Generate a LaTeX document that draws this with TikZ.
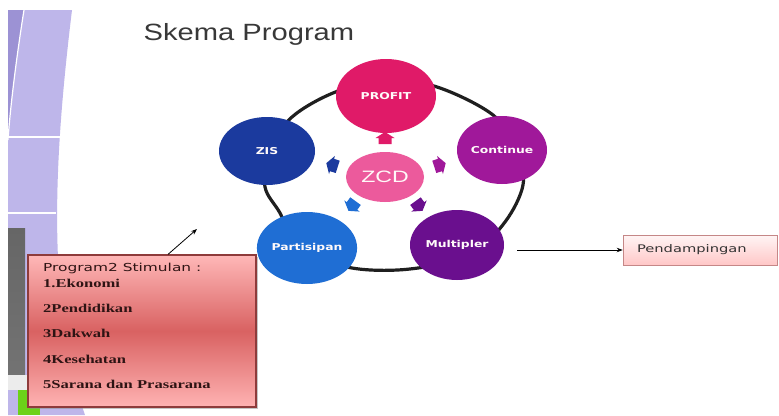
\documentclass[tikz,border=0pt]{standalone}
\usepackage{fontspec}
\setmainfont{Liberation Serif}
\newfontfamily\dejavu{DejaVu Sans}
\newfontfamily\libsans{Liberation Sans}
\usetikzlibrary{calc,arrows.meta,shadows,shapes.geometric}
\definecolor{profitc}{HTML}{E01A68}
\definecolor{zisc}{HTML}{1B3A9E}
\definecolor{contc}{HTML}{A0189A}
\definecolor{partc}{HTML}{1F6ED4}
\definecolor{multc}{HTML}{6A0F8E}
\definecolor{zcdc}{HTML}{EC5A9C}
\definecolor{lavd}{HTML}{9C92D4}
\definecolor{lavl}{HTML}{BEB6EA}
\definecolor{boxedge}{HTML}{8E3B3B}
\definecolor{listtext}{HTML}{2E1414}
\tikzset{
  bub/.style={ellipse, inner sep=0pt, text=white!92!pink,
    font=\dejavu\bfseries\fontsize{9.5}{11}\selectfont},
  ringline/.style={line width=3.2pt, black!88},
  stimbox/.style={rectangle, draw=boxedge, line width=1.2pt,
    top color=red!28!white, bottom color=red!30!white, middle color=red!55!white!85!black,
    drop shadow={shadow xshift=2pt, shadow yshift=-2pt, fill=black!45}},
  listitem/.style={anchor=base west, inner sep=0pt, text=listtext,
    font=\bfseries\fontsize{12}{14}\selectfont},
  pendbox/.style={rectangle, draw=red!35!gray!70, line width=0.6pt,
    top color=red!4!white, bottom color=red!22!white,
    text width=126pt, inner xsep=14pt, align=left, minimum height=30pt,
    font=\dejavu\fontsize{10.5}{12}\selectfont, text=black!80},
  pointer/.style={line width=0.8pt, black, -{Stealth[length=6pt,width=4.5pt]}},
  pics/blk/.style={code={\fill[#1] (-6,-6.5) -- (0,-6.5) -- (0,-9.5) -- (6,0) -- (0,9.5) -- (0,6.5) -- (-6,6.5) -- cycle;}}
}
\begin{document}
\begin{tikzpicture}[x=1pt,y=-1pt]
\useasboundingbox (0,0) rectangle (779,415);
\fill[white] (0,0) rectangle (779,415);
% left decoration
\fill[lavl] (8,10) -- (72,10) .. controls (55,150) and (45,300) .. (85,415) -- (8,415) -- cycle;
\fill[lavd] (8,10) -- (24,10) .. controls (16,60) and (10,110) .. (8,140) -- cycle;
\draw[white, line width=1.2pt] (24,10) .. controls (16,60) and (10,110) .. (8,140);
\draw[white, line width=1.2pt] (8,137) -- (62,137);
\draw[white, line width=1.2pt] (8,213) -- (56,213);
\shade[top color=black!60, middle color=gray!55, bottom color=black!55] (8,228) rectangle (25,375);
\fill[gray!15] (8,375) rectangle (42,390);
\fill[green!55!yellow!80!black!90] (18,390) rectangle (40,415);
% title
\node[anchor=base, inner sep=0pt, text=black!78, font=\libsans\fontsize{23.5}{28}\selectfont] (title) at (249,40) {\scalebox{1.24}[1]{Skema Program}};
% ring
\draw[ringline] plot[smooth cycle, tension=0.55] coordinates {(386,78) (440,88) (493,115) (518,150) (523,185) (505,222) (470,255) (410,269) (352,268) (300,250) (280,213) (265,187) (268,150) (292,117) (333,93)};
% bubbles
\node[bub, fill=profitc, minimum width=100pt, minimum height=74pt] (profit) at (386,96) {\scalebox{1.3}[1]{PROFIT}};
\node[bub, fill=zisc, minimum width=96pt, minimum height=68pt] (zis) at (267,151) {\scalebox{1.3}[1]{ZIS}};
\node[bub, fill=contc, minimum width=90pt, minimum height=68pt] (cont) at (502,150) {\scalebox{1.3}[1]{Continue}};
\node[bub, fill=partc, minimum width=92pt, minimum height=72pt] (part) at (307,248) {\scalebox{1.3}[1]{Partisipan}};
\node[bub, fill=multc, minimum width=94pt, minimum height=70pt] (mult) at (457,245) {\scalebox{1.3}[1]{Multipler}};
\node[ellipse, fill=zcdc, minimum width=78pt, minimum height=50pt, inner sep=0pt, text=white!90!pink, font=\libsans\fontsize{16.5}{18}\selectfont] (zcd) at (385,177) {\scalebox{1.4}[1]{ZCD}};
% small block arrows
\pic[rotate=90] at (385,138) {blk=profitc};
\pic[rotate=162] at (332,165) {blk=zisc};
\pic[rotate=18] at (440,165) {blk=contc};
\pic[rotate=234] at (352,206) {blk=partc};
\pic[rotate=306] at (419,206) {blk=multc};
% stimulus box
\node[stimbox, minimum width=228pt, minimum height=152pt, inner sep=0pt] (stim) at (142,331) {};
\node[listitem, font=\dejavu\fontsize{11}{13}\selectfont] (t0) at (43,271) {\scalebox{1.4}[1]{Program2 Stimulan :}};
\node[listitem] (t1) at (43,287) {\scalebox{1.38}[1]{1.Ekonomi}};
\node[listitem] (t2) at (43,312) {\scalebox{1.38}[1]{2Pendidikan}};
\node[listitem] (t3) at (43,337) {\scalebox{1.38}[1]{3Dakwah}};
\node[listitem] (t4) at (43,363) {\scalebox{1.38}[1]{4Kesehatan}};
\node[listitem] (t5) at (43,388) {\scalebox{1.38}[1]{5Sarana dan Prasarana}};
\coordinate (ptr) at (197,229);
\draw[pointer] ([xshift=26pt]stim.north) -- (ptr);
% pendampingan
\node[pendbox] (pend) at (700,250) {\scalebox{1.4}[1]{Pendampingan}};
\draw[pointer] ($(mult.east |- pend.west)+(13,0)$) -- (pend.west);
\end{tikzpicture}
\end{document}
